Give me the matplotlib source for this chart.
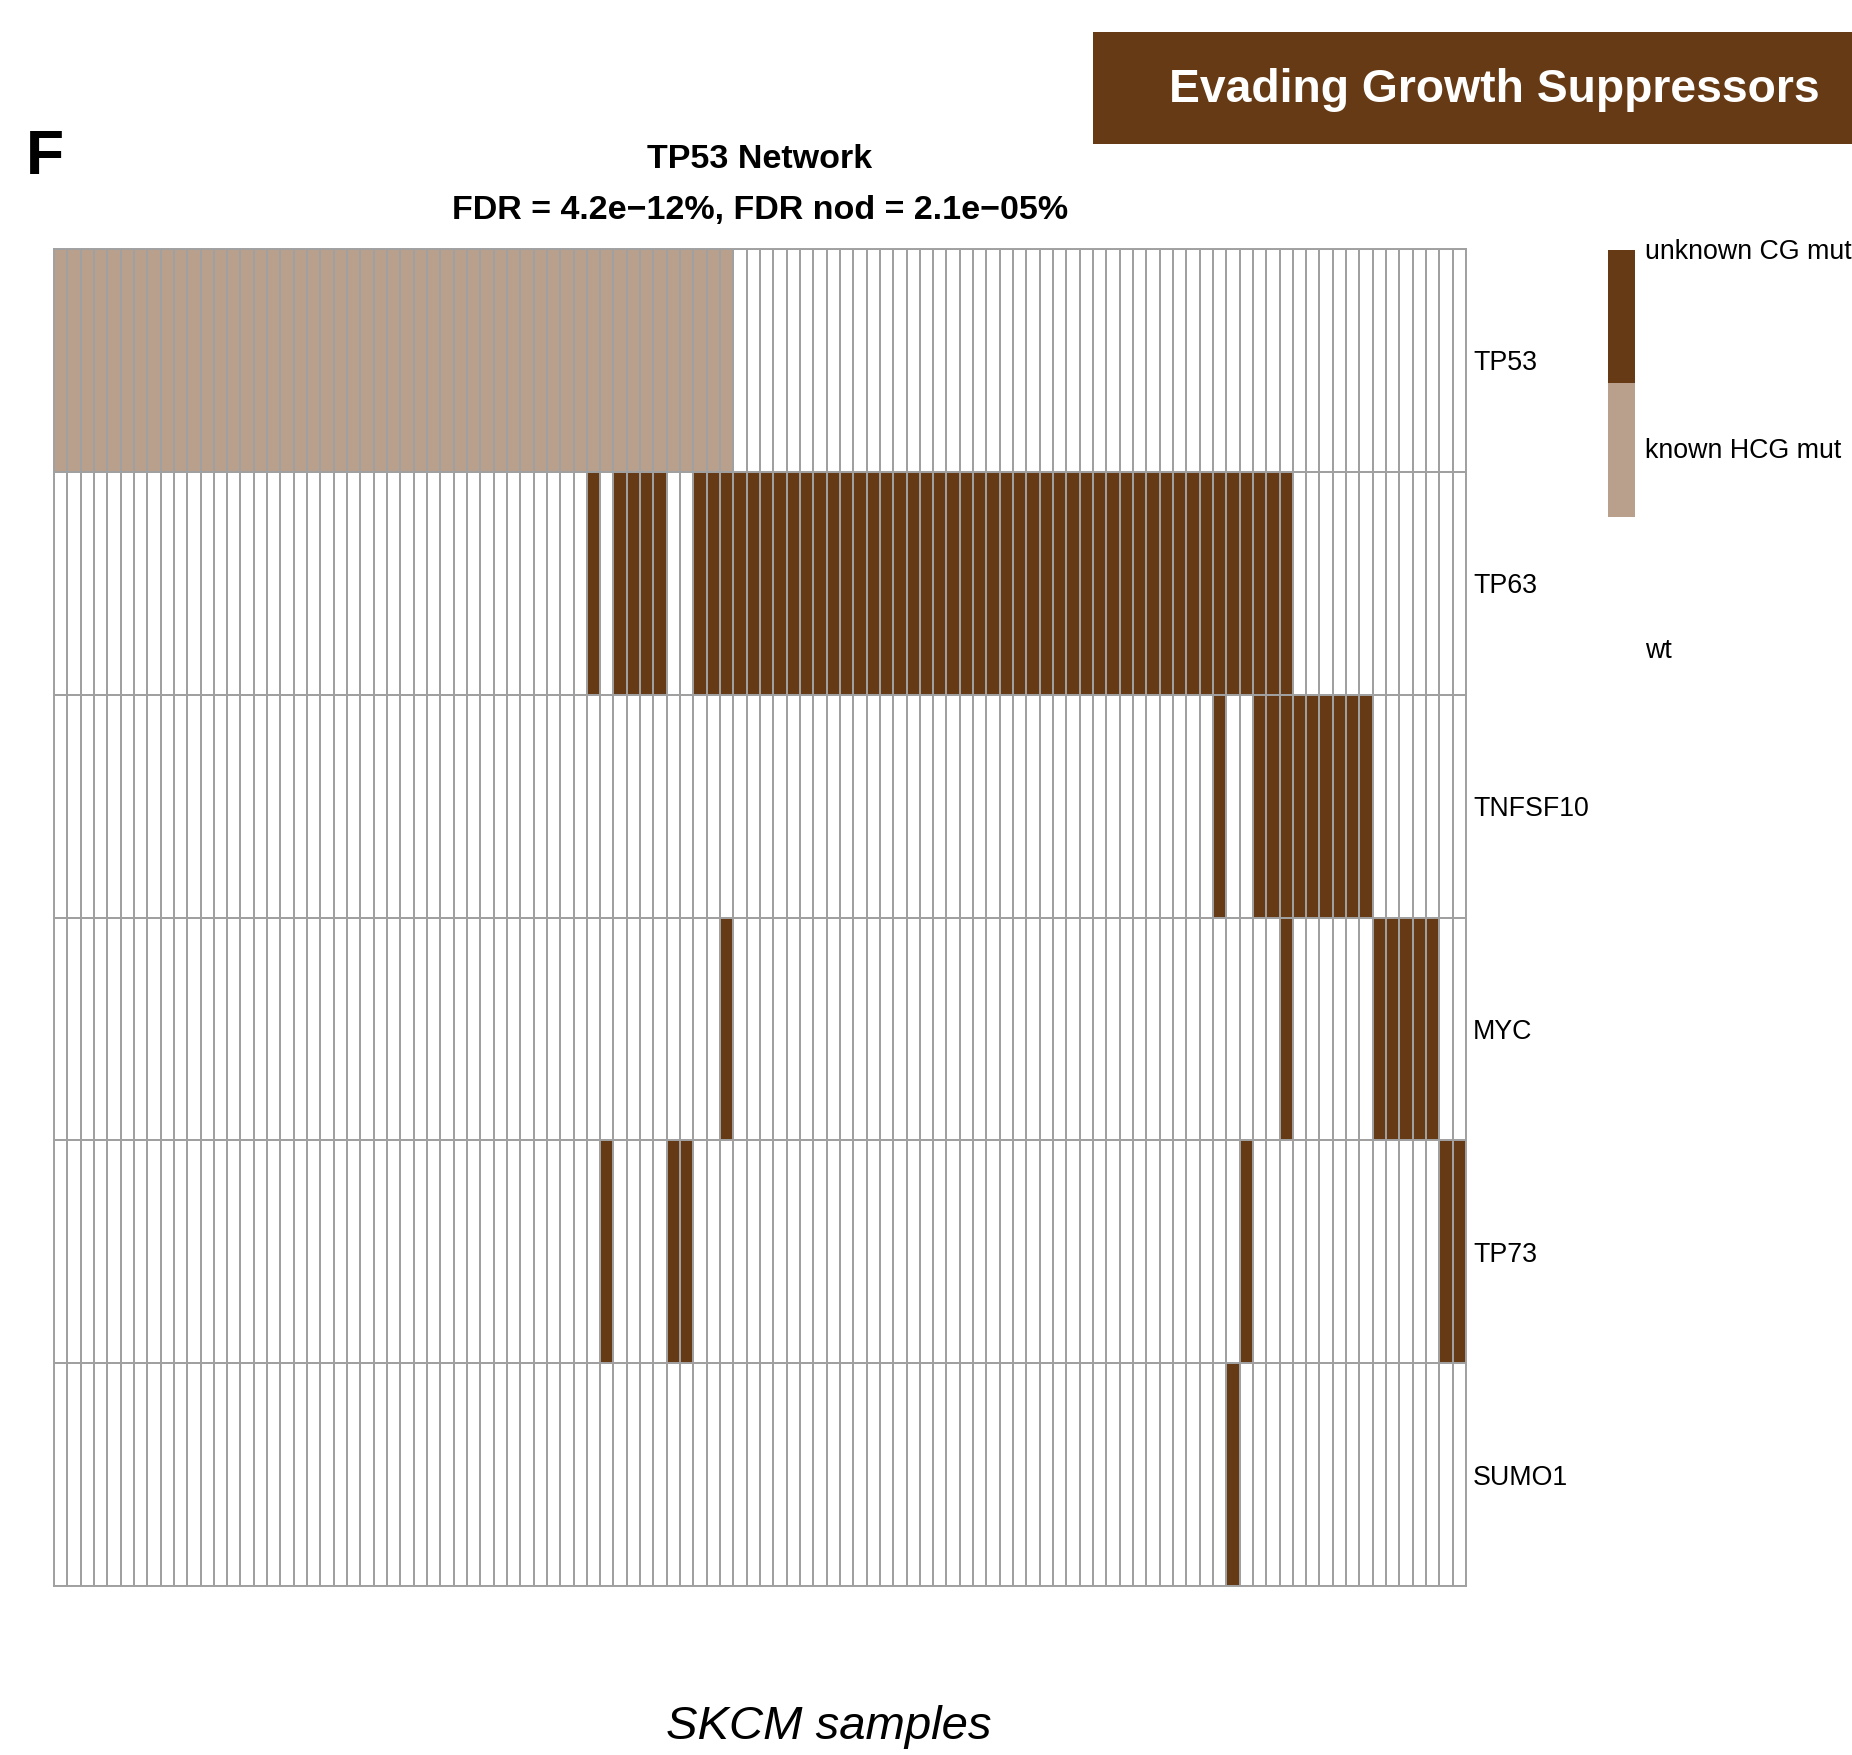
import matplotlib
matplotlib.use('Agg')
import matplotlib.pyplot as plt
from matplotlib.colors import ListedColormap
from matplotlib.patches import Rectangle
import numpy as np

plt.rcParams['font.family'] = ['Liberation Sans', 'DejaVu Sans']

# data
genes = ["TP53", "TP63", "TNFSF10", "MYC", "TP73", "SUMO1"]
n_samples = 106
# mutated sample runs per gene, (first, last) inclusive, in sample order
known_hcg = {
    "TP53": [(0, 50)],
}
unknown_cg = {
    "TP63": [(40, 40), (42, 45), (48, 92)],
    "TNFSF10": [(87, 87), (90, 98)],
    "MYC": [(50, 50), (92, 92), (99, 103)],
    "TP73": [(41, 41), (46, 47), (89, 89), (104, 105)],
    "SUMO1": [(88, 88)],
}
legend_labels = ["unknown CG mut", "known HCG mut", "wt"]

BROWN = "#663A14"
TAN = "#B8A08C"
GRID = "#A0A0A0"

W, H = 1852, 1755
fig = plt.figure(figsize=(W / 100, H / 100), dpi=100)

def fx(px):
    return px / W

def fy(py):
    return 1 - py / H

# status matrix: 0 wt, 1 known HCG, 2 unknown CG
mat = np.zeros((len(genes), n_samples))
for g, runs in known_hcg.items():
    for a, b in runs:
        mat[genes.index(g), a:b + 1] = 1
for g, runs in unknown_cg.items():
    for a, b in runs:
        mat[genes.index(g), a:b + 1] = 2

gl, gr, gt, gb = 54, 1466, 249, 1586
ax = fig.add_axes([fx(gl), fy(gb), fx(gr - gl), (gb - gt) / H])
cmap = ListedColormap(["white", TAN, BROWN])
ax.pcolormesh(mat, cmap=cmap, vmin=-0.5, vmax=2.5,
              edgecolors=GRID, linewidth=1.4)
ax.set_xlim(0, n_samples)
ax.set_ylim(len(genes), 0)
ax.set_xticks([])
ax.yaxis.tick_right()
ax.set_yticks(np.arange(len(genes)) + 0.5)
ax.set_yticklabels(genes, fontsize=19.3)
ax.tick_params(axis='y', length=0, pad=5)
for s in ax.spines.values():
    s.set_color(GRID)
    s.set_linewidth(1.4)

# legend bar
lax = fig.add_axes([fx(1608), fy(650), fx(27), (650 - 250) / H])
lax.pcolormesh(np.array([[0], [1], [2]]), cmap=cmap, vmin=-0.5, vmax=2.5)
lax.set_ylim(0, 3)
lax.axis('off')
for lab, py in zip(legend_labels, [252, 451, 651]):
    fig.text(fx(1645), fy(py), lab, fontsize=19.3, va='center', ha='left')

# header box
fig.patches.append(Rectangle((fx(1093), fy(144)), fx(W - 1093), (144 - 32) / H,
                             transform=fig.transFigure, facecolor=BROWN,
                             edgecolor='none'))
fig.text(fx(1494), fy(90), "Evading Growth Suppressors", color='white',
         fontsize=33.3, fontweight='bold', ha='center', va='center')

fig.text(fx(26), fy(157), "F", fontsize=45, fontweight='bold', va='center', ha='left')
fig.text(fx(760), fy(159), "TP53 Network", fontsize=24.5, fontweight='bold',
         ha='center', va='center')
fig.text(fx(760), fy(210), "FDR = 4.2e\u221212%, FDR nod = 2.1e\u221205%",
         fontsize=24.5, fontweight='bold', ha='center', va='center')
fig.text(fx(829), fy(1727), "SKCM samples", fontsize=34, style='italic',
         ha='center', va='center')

fig.savefig("out.png", dpi=100)
